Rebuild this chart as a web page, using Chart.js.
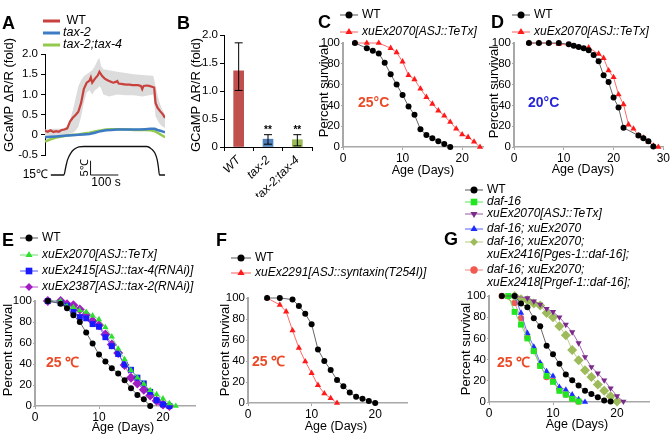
<!DOCTYPE html>
<html><head><meta charset="utf-8">
<script src="https://cdn.jsdelivr.net/npm/chart.js@4.4.0/dist/chart.umd.min.js"></script>
<style>
html,body{margin:0;padding:0;background:#fff;}
#wrap{position:relative;width:671px;height:448px;overflow:hidden;background:#fff;}
canvas{position:absolute;}
</style></head><body><div id="wrap"></div>
<script>
const FONT = "'Liberation Sans', Arial, Helvetica, sans-serif";
const TICK = 11.5;

// ================= DATA =================
// Panel A – GCaMP ΔR/R (fold) vs time (s)
const aTime = [0,10,20,30,40,50,60,70,80,90,100,110,120,130,140,150,160,165,170,180,190,196,205,215,225,235,245,255,260,265,275,285,295,305,315,325,335,345,350,355,365,375,385,393,398,405,415,425,432];
const aWT   = [0.10,0.075,0.11,0.07,0.09,0.075,0.12,0.13,0.16,0.33,0.42,0.49,0.57,0.79,1.14,1.29,1.34,1.42,1.29,1.39,1.47,1.56,1.46,1.39,1.35,1.32,1.29,1.31,1.33,1.27,1.26,1.25,1.24,1.24,1.23,1.23,1.23,1.21,1.13,1.21,1.22,1.21,1.19,1.17,0.79,0.67,0.58,0.50,0.42];
const aBandTime  = [0,30,60,80,85,100,110,120,130,140,150,160,170,180,190,196,202,210,230,260,290,320,350,390,398,410,420,432];
const aBandUpper = [0.13,0.15,0.15,0.2,0.25,0.6,0.9,1.2,1.35,1.45,1.5,1.55,1.6,1.7,1.85,1.9,1.7,1.62,1.6,1.56,1.53,1.5,1.48,1.46,1.2,0.85,0.65,0.5];
const aBandLower = [-0.05,-0.05,-0.05,0,0.02,0.05,0.1,0.2,0.45,0.8,1.05,1.1,1.0,1.1,1.15,1.2,1.15,1.0,0.95,1.0,0.98,0.98,0.95,1.0,0.45,0.3,0.22,0.17];
const aTaxTime = [0,20,40,60,80,100,120,140,160,180,200,220,240,260,280,300,320,340,360,380,395,405,415,425,432];
const aTax2    = [-0.06,-0.05,-0.04,-0.03,-0.02,-0.01,0.0,0.01,0.02,0.05,0.09,0.11,0.12,0.13,0.13,0.13,0.13,0.13,0.14,0.15,0.15,0.12,0.10,0.08,0.06];
const aTax24   = [-0.17,-0.11,-0.07,-0.04,-0.02,0.0,0.01,0.03,0.05,0.08,0.11,0.13,0.14,0.14,0.14,0.13,0.12,0.12,0.12,0.11,0.09,0.05,0.01,-0.03,-0.06];
// temperature stimulus (°C)
const stimTime = [21,68,75,81,93,105,122,139,367,385,396,404,408,412,432];
const stimTemp = [15,15,17.9,20.3,22.7,24,24.9,25,25,24,22.6,20.3,17.9,15,15];

// Panel B – bar chart
const bCategories = ['WT','tax-2','tax-2;tax-4'];
const bValues  = [1.36,0.14,0.13];
const bErrLow  = [1.01,0.05,0.02];
const bErrHigh = [1.86,0.22,0.22];
const bStars   = ['','**','**'];

// Panel C – 25°C
const cDaysWT   = [2,4,5,6,7,8,9,10,11,12,13,14,15,16,17,18];
const cWT       = [100,95,92.5,90,81,70,60,50,39,31,17,11.5,8.5,5.5,3,0];
const cDaysTeTx = [2,4,6,8,9,10,11,12,13,14,15,16,17,18,19,20,21,22,23];
const cTeTx     = [100,100,100,95,91,82,69,65,56,48,41.5,35,30,24,17.5,12,9.5,5,0];

// Panel D – 20°C
const dDaysWT   = [3,5,7,9,11,12,13,14,15,16,17,18,19,20,21,22,25,26,27,28];
const dWT       = [100,100,100,100,98.8,97.4,96.2,95,93,88.5,82.5,69,62.5,47.5,38,18.5,11,8.5,5.5,0.5];
const dDaysTeTx = [3,5,7,9,15,17,18,19,20,21,22,23,24,25,26,27,28,29];
const dTeTx     = [100,100,100,99,95.5,89.5,85.5,73.5,67,50.5,41,21.5,17.5,11,8.8,5,1,0];

// Panel E – 25°C
const eDaysWT   = [2,4,5,6,7,8,9,10,11,12,13,14,15,16,17,18];
const eWT       = [100,97.5,93,86.5,80,70,59.5,49,42.5,36,31,24.5,17,10.5,6.5,0];
const eDaysTeTx = [2,4,5,6,7,8,9,10,11,12,13,14,15,16,17,18,19,20,21,22];
const eTeTx     = [100,100,95,94,91,89.5,86,82.5,75,66,54.5,44.5,34,27,21,15,11,7,2.5,0];
const eDaysTax4 = [2,4,5,6,7,8,9,10,11,12,13,14,15,16,17,18,19,20,21];
const eTax4     = [100,98,95.5,90,84.7,83.5,78,75.5,65.5,57,49.5,39.5,34.5,27,21.5,13.5,5.5,1.5,0];
const eDaysTax2 = [2,4,5,6,7,8,9,10,11,12,13,14,15,16,17,18,19,20,21];
const eTax2     = [100,100,97,96,92,87,81,77,68,58.5,50.5,39,27,21.5,15.5,10,5,1.5,0];

// Panel F – 25°C
const fDaysWT  = [3,5,7,8,9,10,11,12,13,14,15,16,17,18,19,20];
const fWT      = [100,100,98.5,92.5,85,75,51,40,31.5,22,16,10,6,4,2,0];
const fDaysSyn = [3,5,6,7,8,9,10,11,12,13,14];
const fSyn     = [100,93.5,87,69,52.5,39.5,28.5,17,9,4.5,0];

// Panel G – 25°C
const gDaysWT    = [2,4,5,6,7,8,9,10,11,12,13,14,15,16,17,18,19];
const gWT        = [100,100,93,89.5,79,71.5,53,45,36,26,20.5,15.5,10.5,7.5,4.5,1.5,0.5];
const gDaysDaf   = [3,4,5,6,7,8,9,10,11,12,13,14];
const gDaf       = [100,85,73,60,48,34,24.5,19,10.5,7,3,0.5];
const gDaysTeTx  = [4,6,7,8,9,10,11,12,13,14,15,16,17,18,19,20,21];
const gTeTx      = [100,98,95,92,88,85,80,73,66,55.5,42.5,33,27,20.5,13,5.5,0.5];
const gDaysBlue  = [4,5,6,7,8,9,10,11,12,13,14,15];
const gBlue      = [100,84,65,52,37,29,24.5,14,11.5,7,2.5,0];
const gDaysOlive = [4,5,6,7,8,9,10,11,12,13,14,15,16,17,18,19,20];
const gOlive     = [100,97,96,93,91,84,80,71.5,63,49,39.5,30,23.5,16.5,10.5,5.5,0.5];
const gDaysRed   = [2,4,5,6,7,8,9,10,11,12,13,14];
const gRed       = [100,93.5,79,61,48,35,23.5,20,12,7,3.5,0.5];

// ================= HELPERS =================
const xy = (xs, ys) => xs.map((x, i) => ({x: x, y: ys[i]}));

function mk(left, top, w, h) {
  const c = document.createElement('canvas');
  c.width = w; c.height = h;
  c.style.left = left + 'px'; c.style.top = top + 'px';
  c.style.width = w + 'px'; c.style.height = h + 'px';
  document.getElementById('wrap').appendChild(c);
  return c;
}

function marker(ctx, style, rot, r, x, y) {
  ctx.save();
  ctx.translate(x, y);
  ctx.rotate((rot || 0) * Math.PI / 180);
  ctx.beginPath();
  if (style === 'circle') {
    ctx.arc(0, 0, r, 0, Math.PI * 2);
  } else if (style === 'triangle') {
    ctx.moveTo(0, -r);
    ctx.lineTo(r * Math.cos(Math.PI / 6), r * Math.sin(Math.PI / 6));
    ctx.lineTo(-r * Math.cos(Math.PI / 6), r * Math.sin(Math.PI / 6));
    ctx.closePath();
  } else if (style === 'rect') {
    const s = r * Math.SQRT1_2;
    ctx.rect(-s, -s, 2 * s, 2 * s);
  } else if (style === 'rectRot') {
    const s = r * Math.SQRT1_2;
    ctx.moveTo(-s, 0); ctx.lineTo(0, s); ctx.lineTo(s, 0); ctx.lineTo(0, -s); ctx.closePath();
  }
  ctx.fill();
  ctx.restore();
}

const deco = {
  id: 'deco',
  afterDraw(chart, args, o) {
    const ctx = chart.ctx;
    ctx.save();
    ctx.translate(-(o.ox || 0), -(o.oy || 0));
    (o.texts || []).forEach(t => {
      ctx.save();
      ctx.font = t.font;
      ctx.fillStyle = t.color || '#000';
      ctx.textAlign = t.align || 'center';
      ctx.textBaseline = t.baseline || 'middle';
      ctx.translate(t.x, t.y);
      if (t.rotate) ctx.rotate(t.rotate * Math.PI / 180);
      ctx.fillText(t.text, 0, 0);
      ctx.restore();
    });
    if (o.legend) {
      const L = o.legend;
      L.items.forEach(it => {
        const ds = chart.data.datasets[it.ds];
        ctx.save();
        ctx.strokeStyle = ds.borderColor;
        ctx.lineWidth = L.lineWidth || 1;
        ctx.beginPath(); ctx.moveTo(L.x0, it.y); ctx.lineTo(L.x1, it.y); ctx.stroke();
        if (ds.pointRadius > 0) {
          ctx.fillStyle = ds.pointBackgroundColor;
          marker(ctx, ds.pointStyle, ds.pointRotation, ds.pointRadius + 0.5, (L.x0 + L.x1) / 2, it.y);
        }
        ctx.font = (it.italic ? 'italic ' : '') + (L.size || 12) + 'px ' + FONT;
        ctx.fillStyle = '#000'; ctx.textAlign = 'left'; ctx.textBaseline = 'middle';
        ctx.fillText(ds.label, L.tx, it.y);
        (it.more || []).forEach(m => ctx.fillText(m.text, L.tx, m.y));
        ctx.restore();
      });
    }
    ctx.restore();
  }
};

const errBars = {
  id: 'errBars',
  afterDatasetsDraw(chart, args, o) {
    if (!o || !o.low) return;
    const ctx = chart.ctx, meta = chart.getDatasetMeta(0), ys = chart.scales.y;
    ctx.save();
    ctx.strokeStyle = '#000'; ctx.lineWidth = 1;
    meta.data.forEach((bar, i) => {
      const x = bar.x, y1 = ys.getPixelForValue(o.low[i]), y2 = ys.getPixelForValue(o.high[i]);
      ctx.beginPath();
      ctx.moveTo(x, y1); ctx.lineTo(x, y2);
      ctx.moveTo(x - 4, y1); ctx.lineTo(x + 4, y1);
      ctx.moveTo(x - 4, y2); ctx.lineTo(x + 4, y2);
      ctx.stroke();
      if (o.stars[i]) {
        ctx.font = 'bold 10px ' + FONT; ctx.fillStyle = '#000';
        ctx.textAlign = 'center'; ctx.textBaseline = 'bottom';
        ctx.fillText(o.stars[i], x, y2 + 1);
      }
    });
    ctx.restore();
  }
};

const base = {responsive: false, animation: false, devicePixelRatio: 1, events: []};
const GREY = '#a8a8a8';

function ser(label, xs, ys, style, color, line, r, rot) {
  return {label: label, data: xy(xs, ys), showLine: true, borderColor: line, borderWidth: 0.9,
    pointStyle: style, pointRotation: rot || 0, pointRadius: r, pointBackgroundColor: color,
    pointBorderColor: color, pointBorderWidth: 0, clip: false, tension: 0};
}

function survival(g, datasets, xMax, texts, legend) {
  const c = mk(g.cx, g.cy, g.cw, g.ch);
  const xh = 20;
  new Chart(c, {
    type: 'line',
    data: {datasets: datasets},
    options: Object.assign({}, base, {
      layout: {padding: {left: 0, top: g.T - g.cy, right: g.cx + g.cw - g.R, bottom: g.cy + g.ch - g.B - xh}},
      plugins: {legend: {display: false}, tooltip: {enabled: false},
        deco: {ox: g.cx, oy: g.cy, texts: texts, legend: legend}},
      scales: {
        x: {type: 'linear', min: 0, max: xMax, afterFit: s => { s.height = xh; },
          ticks: {stepSize: 10, includeBounds: false, padding: 1, maxRotation: 0, color: '#000', font: {family: FONT, size: 12}},
          grid: {drawOnChartArea: false, drawTicks: true, tickLength: 3, color: GREY, lineWidth: 1},
          border: {color: GREY, width: 1.5}},
        y: {type: 'linear', min: 0, max: 100, afterFit: s => { s.width = g.L - g.cx; },
          ticks: {stepSize: 20, padding: 1, color: '#000', font: {family: FONT, size: TICK}},
          grid: {drawOnChartArea: false, drawTicks: true, tickLength: 2, color: GREY, lineWidth: 1},
          border: {color: GREY, width: 2}}
      }
    }),
    plugins: [deco]
  });
}

const tTitle = (text, x, y) => ({text: text, x: x, y: y, rotate: -90, font: '13px ' + FONT});
const tAge = (x, y) => ({text: 'Age (Days)', x: x, y: y, font: '12.5px ' + FONT});
const tPanel = (text, x, y) => ({text: text, x: x, y: y, align: 'left', baseline: 'alphabetic', font: 'bold 18px ' + FONT});
const tTemp = (text, x, y, color) => ({text: text, x: x, y: y, align: 'left', font: 'bold 14px ' + FONT, color: color});
const RED25 = '#ec4a26';

// ================= PANEL A =================
(function () {
  const g = {cx: 0, cy: 0, cw: 178, ch: 200, L: 45, R: 165, T: 54, B: 155};
  const c = mk(g.cx, g.cy, g.cw, g.ch);
  new Chart(c, {
    type: 'line',
    data: {datasets: [
      {label: 'band-', data: xy(aBandTime, aBandLower), borderWidth: 0, pointRadius: 0, fill: false, order: 5},
      {label: 'band+', data: xy(aBandTime, aBandUpper), borderWidth: 0, pointRadius: 0, fill: 0, backgroundColor: '#dcdcdc', order: 4},
      {label: 'tax-2;tax-4', data: xy(aTaxTime, aTax24), borderColor: '#93c94c', borderWidth: 2.5, pointRadius: 0, order: 2},
      {label: 'tax-2', data: xy(aTaxTime, aTax2), borderColor: '#3d7cc4', borderWidth: 2.5, pointRadius: 0, order: 1},
      {label: ' WT', data: xy(aTime, aWT), borderColor: '#c8413c', borderWidth: 2.2, pointRadius: 0, order: 0}
    ]},
    options: Object.assign({}, base, {
      layout: {padding: {left: 0, top: g.T, right: g.cw - g.R, bottom: g.ch - g.B}},
      plugins: {legend: {display: false}, tooltip: {enabled: false}, filler: {propagate: false},
        deco: {ox: 0, oy: 0,
          texts: [tPanel('A', 2, 29), {text: 'GCaMP ΔR/R (fold)', x: 9, y: 95, rotate: -90, font: '13px ' + FONT}],
          legend: {x0: 43, x1: 60, tx: 63, lineWidth: 3, size: 12.5,
            items: [{ds: 4, y: 21}, {ds: 3, y: 33, italic: true}, {ds: 2, y: 45, italic: true}]}}},
      scales: {
        x: {type: 'linear', display: false, min: 0, max: 432},
        y: {type: 'linear', min: -0.5, max: 2, afterFit: s => { s.width = g.L; },
          ticks: {stepSize: 0.5, padding: 3, color: '#000', font: {family: FONT, size: TICK}},
          grid: {drawOnChartArea: false, drawTicks: true, tickLength: 4, color: '#000'},
          border: {color: '#000', width: 1}}
      }
    }),
    plugins: [deco]
  });
  // stimulus trace
  const s = mk(0, 130, 178, 70);
  new Chart(s, {
    type: 'line',
    data: {datasets: [{label: 'T', data: xy(stimTime, stimTemp), borderColor: '#111', borderWidth: 1.3,
      pointRadius: 0, cubicInterpolationMode: 'monotone', clip: false}]},
    options: Object.assign({}, base, {
      layout: {padding: {left: 45, right: 13, top: 10, bottom: 20}},
      plugins: {legend: {display: false}, tooltip: {enabled: false},
        deco: {ox: 0, oy: 130,
          texts: [
            {text: '15℃', x: 48, y: 175, align: 'right', font: '12px ' + FONT},
            {text: '5℃', x: 85, y: 168, rotate: -90, font: '11px ' + FONT},
            {text: '100 s', x: 106, y: 183, font: '12px ' + FONT}
          ]}},
      scales: {
        x: {type: 'linear', display: false, min: 0, max: 432},
        y: {type: 'linear', display: false, min: 13.25, max: 27.28}
      }
    }),
    plugins: [deco, {
      id: 'scalebar',
      afterDraw(chart) {
        const ctx = chart.ctx, xs = chart.scales.x, ys = chart.scales.y;
        const x0 = xs.getPixelForValue(164), x1 = xs.getPixelForValue(264);
        const y0 = ys.getPixelForValue(15), y1 = ys.getPixelForValue(20);
        ctx.save(); ctx.strokeStyle = '#111'; ctx.lineWidth = 1;
        ctx.beginPath(); ctx.moveTo(x0, y1); ctx.lineTo(x0, y0); ctx.lineTo(x1, y0); ctx.stroke();
        ctx.restore();
      }
    }]
  });
})();

// ================= PANEL B =================
(function () {
  const g = {cx: 172, cy: 0, cw: 148, ch: 200, L: 224, R: 312, T: 35, B: 147};
  const c = mk(g.cx, g.cy, g.cw, g.ch);
  new Chart(c, {
    type: 'bar',
    data: {labels: bCategories, datasets: [{label: 'B', data: bValues,
      backgroundColor: ['#c0504d', '#4f81bd', '#9bbb59'], barThickness: 10}]},
    options: Object.assign({}, base, {
      layout: {padding: {left: 0, top: g.T, right: g.cx + g.cw - g.R, bottom: 3}},
      plugins: {legend: {display: false}, tooltip: {enabled: false},
        errBars: {low: bErrLow, high: bErrHigh, stars: bStars},
        deco: {ox: g.cx, oy: 0, texts: [tPanel('B', 177, 29),
          {text: 'GCaMP ΔR/R (fold)', x: 196, y: 95, rotate: -90, font: '13px ' + FONT}]}},
      scales: {
        x: {afterFit: s => { s.height = 50; },
          ticks: {minRotation: 45, maxRotation: 45, padding: 2, color: '#000', font: {family: FONT, size: 12, style: 'italic'}},
          grid: {drawOnChartArea: false, drawTicks: true, tickLength: 4, color: '#000', offset: true},
          border: {color: '#000', width: 1}},
        y: {min: 0, max: 2, afterFit: s => { s.width = g.L - g.cx; },
          ticks: {stepSize: 0.5, padding: 2, color: '#000', font: {family: FONT, size: TICK}},
          grid: {drawOnChartArea: false, drawTicks: true, tickLength: 4, color: '#000'},
          border: {color: '#000', width: 1}}
      }
    }),
    plugins: [errBars, deco]
  });
})();

// ================= PANEL C =================
survival({cx: 318, cy: 0, cw: 172, ch: 185, L: 343, R: 483, T: 43, B: 147},
  [ser('WT', cDaysWT, cWT, 'circle', '#000', '#555', 3),
   ser('xuEx2070[ASJ::TeTx]', cDaysTeTx, cTeTx, 'triangle', '#ff1a1a', '#ff5a5a', 3.6)],
  23.5,
  [tPanel('C', 318, 28), tTitle('Percent survival', 324, 91), tAge(423, 171), tTemp('25°C', 358, 103, RED25)],
  {x0: 340, x1: 358, tx: 362, lineWidth: 1, items: [{ds: 0, y: 15}, {ds: 1, y: 32, italic: true}]});

// ================= PANEL D =================
survival({cx: 488, cy: 0, cw: 183, ch: 185, L: 514, R: 664, T: 43, B: 147},
  [ser('WT', dDaysWT, dWT, 'circle', '#000', '#555', 3),
   ser('xuEx2070[ASJ::TeTx]', dDaysTeTx, dTeTx, 'triangle', '#ff1a1a', '#ff5a5a', 3.6)],
  30,
  [tPanel('D', 491, 28), tTitle('Percent survival', 494, 92), tAge(583, 170), tTemp('20°C', 528, 103, '#2626d9')],
  {x0: 512, x1: 530, tx: 534, lineWidth: 1, items: [{ds: 0, y: 15}, {ds: 1, y: 32, italic: true}]});

// ================= PANEL E =================
survival({cx: 0, cy: 200, cw: 215, ch: 240, L: 35, R: 195, T: 301, B: 406},
  [ser('WT', eDaysWT, eWT, 'circle', '#000', '#555', 3),
   ser('xuEx2070[ASJ::TeTx]', eDaysTeTx, eTeTx, 'triangle', '#2ee02e', '#66e066', 3.6),
   ser('xuEx2415[ASJ::tax-4(RNAi)]', eDaysTax4, eTax4, 'rect', '#1a1aff', '#5555ff', 4.2),
   ser('xuEx2387[ASJ::tax-2(RNAi)]', eDaysTax2, eTax2, 'rectRot', '#a21cc4', '#c24ad6', 5)],
  25,
  [tPanel('E', 2, 246), tTitle('Percent survival', 8, 350), tAge(123, 428), tTemp('25 ℃', 46, 363, RED25)],
  {x0: 20, x1: 38, tx: 42, lineWidth: 1, items: [{ds: 0, y: 238}, {ds: 1, y: 255, italic: true},
    {ds: 2, y: 271, italic: true}, {ds: 3, y: 287, italic: true}]});

// ================= PANEL F =================
survival({cx: 215, cy: 200, cw: 215, ch: 240, L: 248, R: 407, T: 298, B: 403},
  [ser('WT', fDaysWT, fWT, 'circle', '#000', '#555', 3),
   ser('xuEx2291[ASJ::syntaxin(T254I)]', fDaysSyn, fSyn, 'triangle', '#ff1a1a', '#ff5a5a', 3.6)],
  25,
  [tPanel('F', 216, 246), tTitle('Percent survival', 225, 350), tAge(336, 427), tTemp('25 ℃', 252, 362, RED25)],
  {x0: 231, x1: 251, tx: 255, lineWidth: 1, items: [{ds: 0, y: 258}, {ds: 1, y: 273, italic: true}]});

// ================= PANEL G =================
survival({cx: 440, cy: 170, cw: 231, ch: 270, L: 489, R: 649, T: 296, B: 402},
  [ser('WT', gDaysWT, gWT, 'circle', '#000', '#555', 3),
   ser('daf-16', gDaysDaf, gDaf, 'rect', '#22e622', '#55e655', 4.2),
   ser('xuEx2070[ASJ::TeTx]', gDaysTeTx, gTeTx, 'triangle', '#7b2a8c', '#9a55a8', 3.6, 180),
   ser('daf-16; xuEx2070', gDaysBlue, gBlue, 'triangle', '#1a2cff', '#5560ff', 3.6),
   ser('daf-16; xuEx2070;', gDaysOlive, gOlive, 'rectRot', '#9dbb5a', '#b4cc80', 5),
   ser('daf-16; xuEx2070;', gDaysRed, gRed, 'circle', '#f05a50', '#f08880', 3.2)],
  25,
  [tPanel('G', 444, 245), tTitle('Percent survival', 466, 349), tAge(577, 425), tTemp('25 ℃', 497, 363, RED25)],
  {x0: 465, x1: 483, tx: 487, lineWidth: 1, items: [{ds: 0, y: 190}, {ds: 1, y: 202, italic: true},
    {ds: 2, y: 214, italic: true}, {ds: 3, y: 229, italic: true},
    {ds: 4, y: 242, italic: true, more: [{text: 'xuEx2416[Pges-1::daf-16];', y: 255}]},
    {ds: 5, y: 270, italic: true, more: [{text: 'xuEx2418[Prgef-1::daf-16];', y: 283}]}]});
</script>
</body></html>
